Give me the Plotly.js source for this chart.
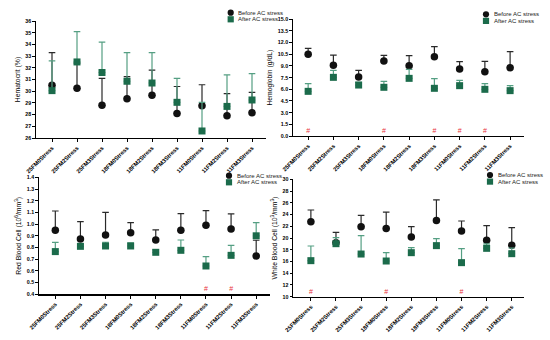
<!DOCTYPE html>
<html><head><meta charset="utf-8">
<script src="https://cdn.plot.ly/plotly-3.0.1.min.js"></script>
<style>html,body{margin:0;padding:0;background:#fff}#chart{width:550px;height:340px}</style>
</head><body><div id="chart"></div>
<script>
const categories = ['25FM0Stress','25FM2Stress','25FM3Stress','18FM0Stress','18FM2Stress','18FM3Stress','11FM0Stress','11FM2Stress','11FM3Stress'];

const hctBefore = [30.5, 30.25, 28.8, 29.35, 29.65, 28.1, 28.75, 27.9, 28.15];
const hctBeforeSD = [2.8, 2.15, 2.3, 1.9, 2.15, 2.3, 1.8, 1.9, 1.75];
const hctAfter = [30.05, 32.5, 31.6, 30.85, 30.7, 29.05, 26.6, 28.7, 29.25];
const hctAfterSD = [2.55, 2.6, 2.6, 2.45, 2.6, 2.05, 2.45, 2.7, 2.25];

const hbBefore = [10.5, 9.09, 7.58, 9.64, 9.04, 10.2, 8.61, 8.27, 8.78];
const hbBeforeSD = [0.77, 1.31, 0.86, 0.73, 1.28, 1.28, 0.94, 1.33, 2.06];
const hbAfter = [5.74, 7.54, 6.55, 6.26, 7.41, 6.13, 6.47, 6.0, 5.83];
const hbAfterSD = [0.99, 0.9, 0.35, 0.77, 1.16, 1.24, 0.69, 0.73, 0.64];
const hbHash = ['25FM0Stress','18FM0Stress','18FM3Stress','11FM0Stress','11FM2Stress'];

const rbcBefore = [0.947, 0.873, 0.907, 0.927, 0.864, 0.947, 0.99, 0.958, 0.728];
const rbcBeforeSD = [0.165, 0.148, 0.193, 0.085, 0.086, 0.142, 0.125, 0.129, 0.134];
const rbcAfter = [0.765, 0.81, 0.813, 0.813, 0.759, 0.776, 0.642, 0.733, 0.90];
const rbcAfterSD = [0.079, 0.02, 0.032, 0.027, 0.021, 0.088, 0.08, 0.086, 0.113];
const rbcHash = ['11FM0Stress','11FM2Stress'];

const wbcBefore = [22.78, 19.2, 21.93, 21.6, 20.17, 23.0, 21.2, 19.6, 18.75];
const wbcBeforeSD = [1.99, 1.77, 1.93, 2.8, 1.76, 3.48, 1.7, 2.5, 3.01];
const wbcAfter = [16.14, 19.03, 17.27, 16.08, 17.5, 18.7, 15.8, 18.24, 17.33];
const wbcAfterSD = [2.5, 1.03, 3.13, 1.42, 0.85, 1.2, 2.38, 0.76, 0.97];
const wbcHash = ['25FM0Stress','18FM0Stress','11FM0Stress'];

const W = 550, H = 340;
const BLACK = '#111111', BLACK_ERR = '#2a2a2a';
const GREEN = '#1b6b4b', GREEN_ERR = '#559f83';
const FONT = 'Arial, "Liberation Sans", sans-serif';

const panels = [
  {id:'', before:hctBefore, bSD:hctBeforeSD, after:hctAfter, aSD:hctAfterSD, hash:[],
   px:[36,266], py:[21,138], xr:[-0.64,8.56], yr:[26,36], dtick:1, fmt:'d', title:'Hematocrit (%)', leg:[230.7,12.7]},
  {id:'2', before:hbBefore, bSD:hbBeforeSD, after:hbAfter, aSD:hbAfterSD, hash:hbHash,
   px:[293,524], py:[19.3,136], xr:[-0.6,8.55], yr:[0,15], dtick:1.5, fmt:'.1f', title:'Hemoglobin (g/dL)', leg:[486,14.3]},
  {id:'3', before:rbcBefore, bSD:rbcBeforeSD, after:rbcAfter, aSD:rbcAfterSD, hash:rbcHash,
   px:[39,270], py:[177.3,294.3], xr:[-0.65,8.55], yr:[0.4,1.4], dtick:0.1, fmt:'.1f', title:'Red Blood Cell (10<sup>6</sup>/mm<sup>3</sup>)', leg:[229,175.7]},
  {id:'4', before:wbcBefore, bSD:wbcBeforeSD, after:wbcAfter, aSD:wbcAfterSD, hash:wbcHash,
   px:[293.3,524.3], py:[179.3,296.7], xr:[-0.7,8.5], yr:[10,30], dtick:2, fmt:'d', title:'White Blood Cell (10<sup>3</sup>/mm<sup>3</sup>)', leg:[490,175]}
];

const traces = [];
const layout = {
  width: W, height: H, margin:{l:0,r:0,t:0,b:0},
  paper_bgcolor:'#fff', plot_bgcolor:'#fff', showlegend:false,
  font:{family:FONT, color:'#000'},
  shapes:[], annotations:[]
};
const zeros = categories.map(() => 0);

panels.forEach(p => {
  const xa = 'x' + p.id, ya = 'y' + p.id;
  const xk = 'xaxis' + p.id, yk = 'yaxis' + p.id;
  layout[xk] = {
    type:'category', domain:[p.px[0]/W, p.px[1]/W], range:p.xr, anchor:ya,
    showline:true, linecolor:'#000', linewidth:1.3, ticks:'outside', ticklen:3, tickwidth:1, tickcolor:'#000',
    tickangle:-45, tickfont:{family:FONT, size:5.8, weight:'bold', color:'#000'},
    showgrid:false, zeroline:false, fixedrange:true
  };
  layout[yk] = {
    domain:[1 - p.py[1]/H, 1 - p.py[0]/H], range:p.yr, anchor:xa,
    dtick:p.dtick, tick0:p.yr[0], tickformat:p.fmt,
    showline:true, linecolor:'#000', linewidth:1.3, ticks:'outside', ticklen:2.5, tickwidth:1, tickcolor:'#000',
    tickfont:{family:FONT, size:5.3, weight:'bold', color:'#000'},
    showgrid:false, zeroline:false, fixedrange:true,
    title:{text:p.title, font:{family:FONT, size:6.8, color:'#000'}, standoff:4}
  };
  traces.push({
    type:'scatter', mode:'markers', x:categories, y:p.before, xaxis:xa, yaxis:ya,
    marker:{symbol:'circle', size:7.5, color:BLACK},
    error_y:{type:'data', symmetric:false, array:p.bSD, arrayminus:zeros, color:BLACK_ERR, thickness:1.2, width:3.3},
    cliponaxis:false
  });
  traces.push({
    type:'scatter', mode:'markers', x:categories, y:p.after, xaxis:xa, yaxis:ya,
    marker:{symbol:'square', size:7, color:GREEN},
    error_y:{type:'data', symmetric:false, array:p.aSD, arrayminus:zeros, color:GREEN_ERR, thickness:1.2, width:3.3},
    cliponaxis:false
  });
  if (p.hash.length) {
    const yh = p.yr[0] + 0.04 * (p.yr[1] - p.yr[0]);
    traces.push({
      type:'scatter', mode:'text', x:p.hash, y:p.hash.map(() => yh), xaxis:xa, yaxis:ya,
      text:p.hash.map(() => '#'), textposition:'middle center',
      textfont:{family:FONT, size:7, color:'#e8323a'}, cliponaxis:false
    });
  }
  // legend (drawn as shapes + text)
  const lx = p.leg[0], ly = p.leg[1], r = 3.1, dy = 6.6;
  layout.shapes.push({type:'circle', xref:'paper', yref:'paper',
    x0:(lx-r)/W, x1:(lx+r)/W, y0:1-(ly+r)/H, y1:1-(ly-r)/H, fillcolor:BLACK, line:{width:0}});
  layout.shapes.push({type:'rect', xref:'paper', yref:'paper',
    x0:(lx-r)/W, x1:(lx+r)/W, y0:1-(ly+dy+r)/H, y1:1-(ly+dy-r)/H, fillcolor:GREEN, line:{width:0}});
  layout.annotations.push({xref:'paper', yref:'paper', x:(lx+5.5)/W, y:1-ly/H, xanchor:'left', yanchor:'middle',
    text:'Before AC stress', showarrow:false, font:{family:FONT, size:6, color:'#222'}});
  layout.annotations.push({xref:'paper', yref:'paper', x:(lx+5.5)/W, y:1-(ly+dy)/H, xanchor:'left', yanchor:'middle',
    text:'After AC stress', showarrow:false, font:{family:FONT, size:6, color:'#222'}});
});

Plotly.newPlot('chart', traces, layout, {staticPlot:true, displayModeBar:false});
</script>
</body></html>
